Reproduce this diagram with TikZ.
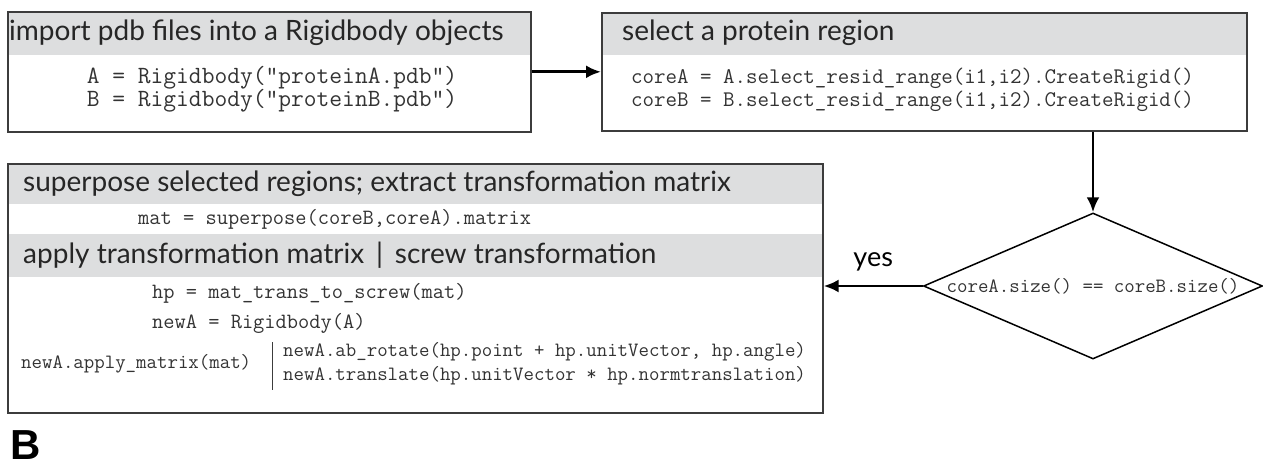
\documentclass[tikz,border=0pt]{standalone}
\usepackage{fontspec}
\usetikzlibrary{shapes.geometric,arrows.meta,positioning}

\newfontfamily\headfont{Lato}
\newfontfamily\labelfont{Liberation Sans}
\definecolor{bandgray}{HTML}{DDDEDF}
\definecolor{edgegray}{HTML}{3C3C3C}
\definecolor{codegray}{HTML}{333333}

\tikzset{
  panel/.style={draw=edgegray, line width=1.6pt, inner sep=0pt, anchor=north west},
  band/.style={fill=bandgray},
  headtxt/.style={font=\headfont\fontsize{28}{31}\selectfont, text=black!85, anchor=west, inner sep=0pt},
  codetxt/.style={font=\ttfamily\fontsize{21.8}{24}\selectfont, text=codegray, inner sep=0pt},
  smallcode/.style={codetxt, font=\ttfamily\fontsize{20.3}{23}\selectfont},
  midcode/.style={codetxt, font=\ttfamily\fontsize{22.3}{25}\selectfont},
  bigcode/.style={codetxt, font=\ttfamily\fontsize{24.8}{27}\selectfont},
  decision/.style={diamond, draw=black, line width=1.5pt, inner sep=0pt, aspect=2.32,
    minimum width=339pt, minimum height=146pt},
  flow/.style={->, line width=2.8pt},
}

\begin{document}
\begin{tikzpicture}[x=1pt, y=-1pt, >={Latex[length=15pt,width=13pt]}]
    \useasboundingbox (0,0) rectangle (1263,466);

    % import box
    \fill[band] (7,11) rectangle (530,55);
    \node[panel, minimum width=523pt, minimum height=120pt] (import) at (7,11) {};
    \node[headtxt] (importhead) at (9,33) {import pdb files into a Rigidbody objects};
    \node[bigcode] (loadA) at (272,78) {A = Rigidbody("proteinA.pdb")};
    \node[bigcode] (loadB) at (272,101) {B = Rigidbody("proteinB.pdb")};

    % select box
    \fill[band] (601,12) rectangle (1246,55);
    \node[panel, minimum width=645pt, minimum height=118pt] (select) at (601,12) {};
    \node[headtxt] (selecthead) at (622,33) {select a protein region};
    \node[midcode, anchor=west] (coreA) at (631,78) {coreA = A.select\_resid\_range(i1,i2).CreateRigid()};
    \node[midcode, anchor=west] (coreB) at (631,101) {coreB = B.select\_resid\_range(i1,i2).CreateRigid()};

    % size test
    \node[decision] (sizecheck) at (1093,286) {};
    \node[smallcode] (sizetext) at (sizecheck.center) {coreA.size() == coreB.size()};

    % superpose / transform box
    \fill[band] (7,163) rectangle (822,204);
    \fill[band] (7,234) rectangle (822,277);
    \node[panel, minimum width=815pt, minimum height=249pt] (superpose) at (7,163) {};
    \node[headtxt] (superhead) at (23,184) {superpose selected regions; extract transformation matrix};
    \node[codetxt, anchor=west] (mat) at (138,219) {mat = superpose(coreB,coreA).matrix};
    \node[headtxt] (applyhead) at (23,255) {apply transformation matrix \,|\, screw transformation};
    \node[codetxt, anchor=west] (hp) at (152,293) {hp = mat\_trans\_to\_screw(mat)};
    \node[codetxt, anchor=west] (newA) at (152,323) {newA = Rigidbody(A)};
    \node[smallcode, anchor=west] (applymat) at (21,364) {newA.apply\_matrix(mat)};
    \draw[edgegray, line width=1pt] (272,342) -- (272,390);
    \node[smallcode, anchor=west] (rotate) at (283,352) {newA.ab\_rotate(hp.point + hp.unitVector, hp.angle)};
    \node[smallcode, anchor=west] (translate) at (283,376) {newA.translate(hp.unitVector * hp.normtranslation)};

    % connectors
    \draw[flow] (import.east) -- (select.west);
    \draw[flow] (sizecheck.north |- select.south) -- (sizecheck.north);
    \draw[flow] (sizecheck.west) -- node[above=10pt, font=\headfont\fontsize{27}{30}\selectfont] (yes) {yes}
        (sizecheck.west -| superpose.east);

    \node[anchor=base west, inner sep=0pt, text depth=0pt, font=\labelfont\bfseries\fontsize{42}{44}\selectfont] (panelB) at (10,459) {B};

\end{tikzpicture}
\end{document}
